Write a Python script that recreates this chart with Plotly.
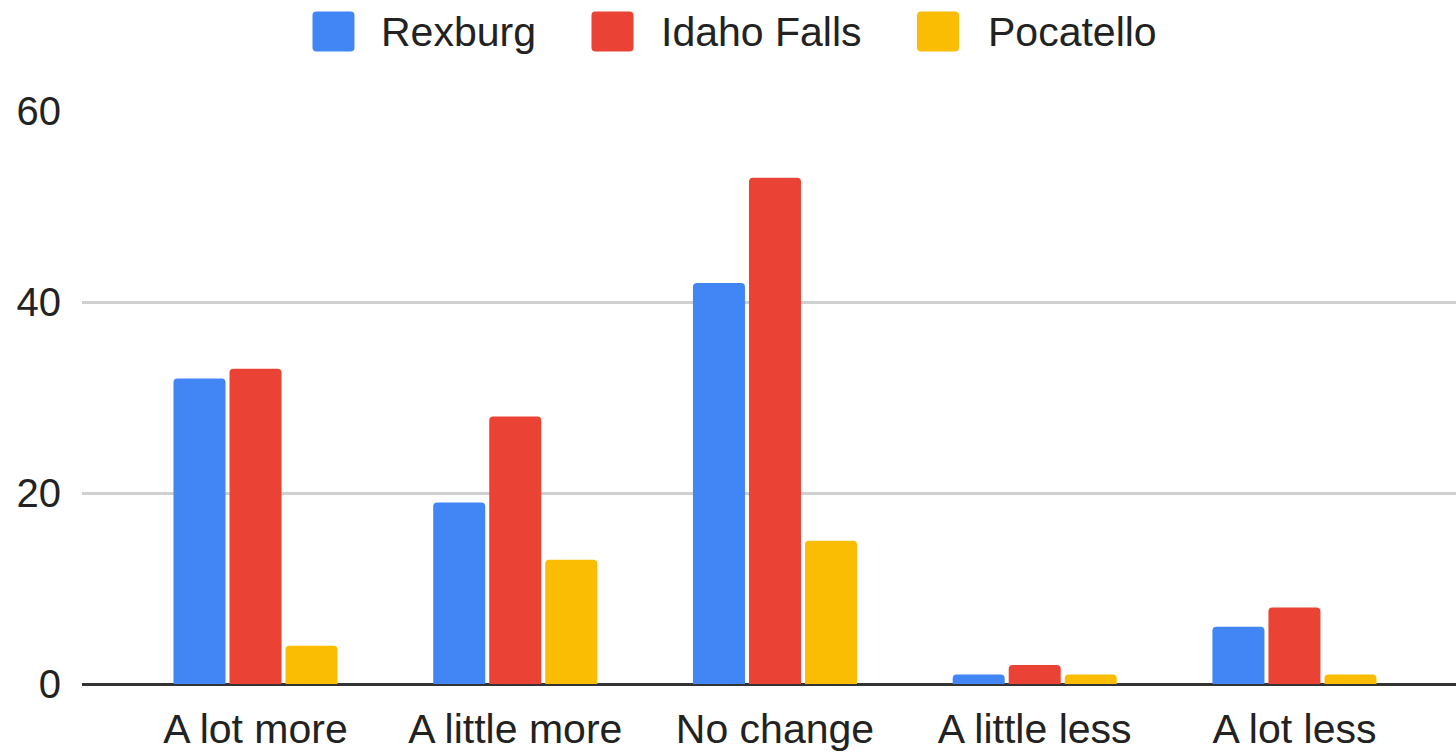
import plotly.graph_objects as go

categories = ["A lot more", "A little more", "No change", "A little less", "A lot less"]
series_names = ["Rexburg", "Idaho Falls", "Pocatello"]
rexburg = [32, 19, 42, 1, 6]
idaho_falls = [33, 28, 53, 2, 8]
pocatello = [4, 13, 15, 1, 1]
y_ticks = [0, 20, 40, 60]

colors = ["#4285F4", "#EA4335", "#FBBC04"]
FONT = "Arial, Liberation Sans, sans-serif"

W, H = 1456, 752
ML, MR, MT, MB = 82, 0, 111, 68
plot_w = W - ML - MR
plot_h = H - MT - MB


def paper_x(px):
    return (px - ML) / plot_w


def paper_y(py):
    return (H - MB - py) / plot_h


fig = go.Figure()
for name, vals, col in zip(series_names, [rexburg, idaho_falls, pocatello], colors):
    fig.add_trace(go.Bar(x=categories, y=vals, name=name, marker_color=col,
                         marker_line_width=0, showlegend=False))

# legend drawn by hand so the swatches can be as large as in the original
legend_swatch_px = [333.5, 612.5, 938]
legend_text_px = [379, 659, 986]
legend_mid_py = 31.5
r = 4
hw, hh = 21, 20
rounded = (f"M{-hw + r},{-hh} L{hw - r},{-hh} Q{hw},{-hh} {hw},{-hh + r} "
           f"L{hw},{hh - r} Q{hw},{hh} {hw - r},{hh} L{-hw + r},{hh} "
           f"Q{-hw},{hh} {-hw},{hh - r} L{-hw},{-hh + r} Q{-hw},{-hh} {-hw + r},{-hh} Z")
for name, col, sx, tx in zip(series_names, colors, legend_swatch_px, legend_text_px):
    fig.add_shape(type="path", xref="paper", yref="paper", xsizemode="pixel", ysizemode="pixel",
                  xanchor=paper_x(sx), yanchor=paper_y(legend_mid_py), path=rounded,
                  fillcolor=col, line_width=0)
    fig.add_annotation(x=paper_x(tx), y=paper_y(legend_mid_py), xref="paper", yref="paper",
                       text=name, showarrow=False, xanchor="left", yanchor="middle",
                       font=dict(family=FONT, size=41, color="#222222"))

fig.update_layout(
    width=W, height=H,
    margin=dict(l=ML, r=MR, t=MT, b=MB),
    paper_bgcolor="white", plot_bgcolor="white",
    barmode="group", bargap=0.353, bargroupgap=0.0714,
    barcornerradius=4,
    font=dict(family=FONT, size=40, color="#222222"),
    showlegend=False,
)
fig.update_xaxes(range=[-0.668, 4.622], showgrid=False, zeroline=False, showline=False,
                 ticks="", ticklabelstandoff=17, tickfont=dict(size=41, color="#222222"),
                 automargin=False)
fig.update_yaxes(range=[0, 60], tickvals=y_ticks, showgrid=True, gridcolor="#d0d0d0", gridwidth=2.5,
                 zeroline=True, zerolinecolor="#333333", zerolinewidth=3, showline=False,
                 ticks="", ticklabelstandoff=20, tickfont=dict(size=40, color="#222222"),
                 automargin=False)

fig.write_html("out.html", config={"displayModeBar": False},
               post_script="document.body.style.margin='0';document.body.style.overflow='hidden';")
